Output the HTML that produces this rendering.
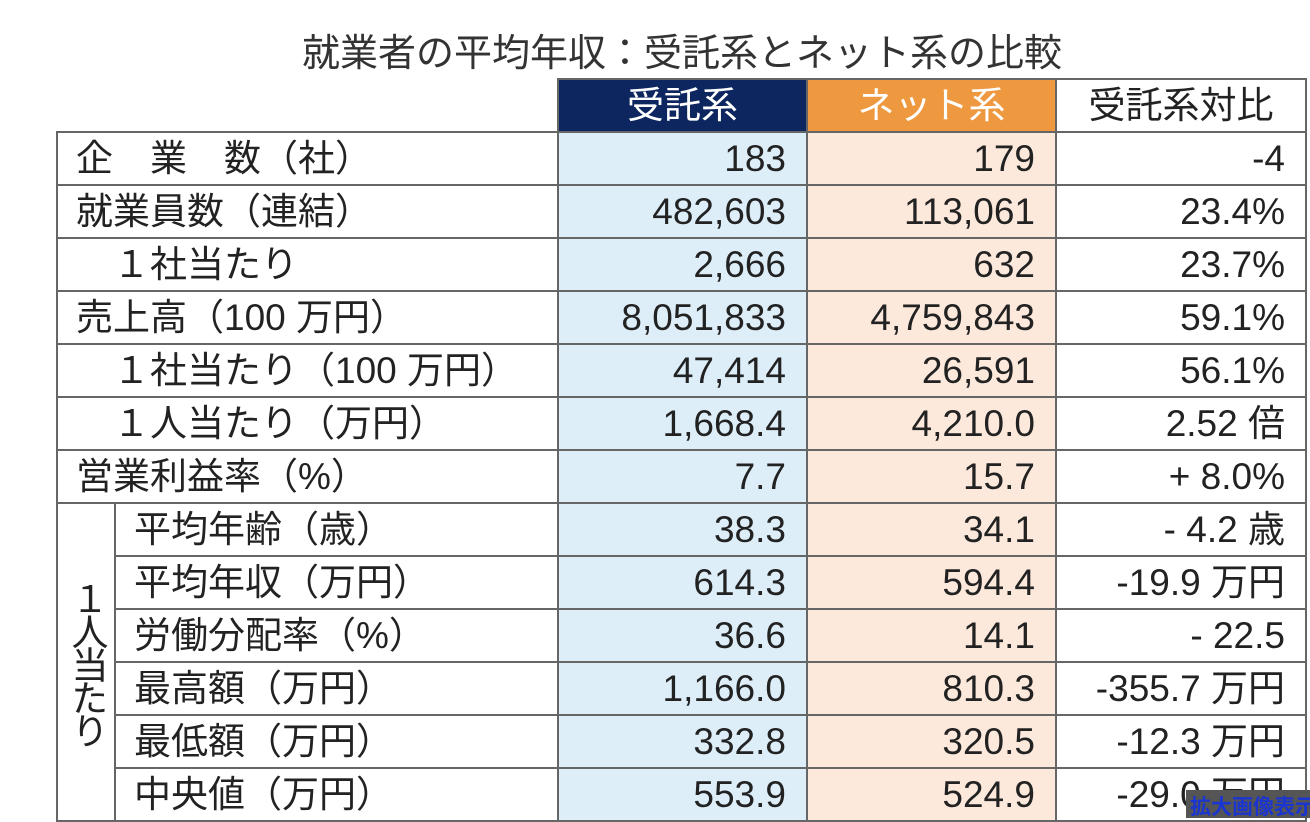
<!DOCTYPE html>
<html><head><meta charset="utf-8"><style>
body{margin:0;width:1310px;height:818px;background:#fff;overflow:hidden;position:relative;font-family:"Liberation Sans","Noto Sans CJK JP",sans-serif;color:#222}
.t{position:absolute;left:0;width:1364px;top:22px;text-align:center;font-size:38px;color:#333}
table{position:absolute;left:56px;top:78px;border-collapse:collapse;font-size:37px;table-layout:fixed;width:1249px}
td{border:2px solid #666;height:51px;padding:0 18px 0 18px;white-space:nowrap;line-height:51px;overflow:visible}
.n{text-align:right;padding-right:20px}
.b{background:#ddeef9}.o{background:#fce9dc}
.h1{background:#0d2660;color:#fff;text-align:center}
.h2{background:#ee9840;color:#fff;text-align:center}
.h3{text-align:center}
.e{border:none;border-bottom:2px solid #666}
.v{writing-mode:vertical-rl;text-orientation:upright;text-align:center;padding:0;line-height:58px;letter-spacing:-4px}
.ov{position:absolute;left:1186px;top:790px;width:124px;height:28px;background:#555;color:#1a35d0;font-weight:bold;font-size:21px;line-height:36px;overflow:hidden;white-space:nowrap;padding-left:4px}
</style></head><body>
<div class="t">就業者の平均年収：受託系とネット系の比較</div>
<table>
<colgroup><col style="width:58px"><col style="width:443px"><col style="width:249px"><col style="width:249px"><col style="width:250px"></colgroup>
<tr><td class="e" colspan="2"></td><td class="h1">受託系</td><td class="h2">ネット系</td><td class="h3">受託系対比</td></tr>
<tr><td colspan="2">企　業　数（社）</td><td class="n b">183</td><td class="n o">179</td><td class="n">-4</td></tr>
<tr><td colspan="2">就業員数（連結）</td><td class="n b">482,603</td><td class="n o">113,061</td><td class="n">23.4%</td></tr>
<tr><td colspan="2">　１社当たり</td><td class="n b">2,666</td><td class="n o">632</td><td class="n">23.7%</td></tr>
<tr><td colspan="2">売上高（100 万円）</td><td class="n b">8,051,833</td><td class="n o">4,759,843</td><td class="n">59.1%</td></tr>
<tr><td colspan="2">　１社当たり（100 万円）</td><td class="n b">47,414</td><td class="n o">26,591</td><td class="n">56.1%</td></tr>
<tr><td colspan="2">　１人当たり（万円）</td><td class="n b">1,668.4</td><td class="n o">4,210.0</td><td class="n">2.52 倍</td></tr>
<tr><td colspan="2">営業利益率（%）</td><td class="n b">7.7</td><td class="n o">15.7</td><td class="n">+ 8.0%</td></tr>
<tr><td class="v" rowspan="7">１人当たり</td><td>平均年齢（歳）</td><td class="n b">38.3</td><td class="n o">34.1</td><td class="n">- 4.2 歳</td></tr>
<tr><td>平均年収（万円）</td><td class="n b">614.3</td><td class="n o">594.4</td><td class="n">-19.9 万円</td></tr>
<tr><td>労働分配率（%）</td><td class="n b">36.6</td><td class="n o">14.1</td><td class="n">- 22.5</td></tr>
<tr><td>最高額（万円）</td><td class="n b">1,166.0</td><td class="n o">810.3</td><td class="n">-355.7 万円</td></tr>
<tr><td>最低額（万円）</td><td class="n b">332.8</td><td class="n o">320.5</td><td class="n">-12.3 万円</td></tr>
<tr><td>中央値（万円）</td><td class="n b">553.9</td><td class="n o">524.9</td><td class="n">-29.0 万円</td></tr>
</table>
<div class="ov">拡大画像表示</div>
</body></html>
